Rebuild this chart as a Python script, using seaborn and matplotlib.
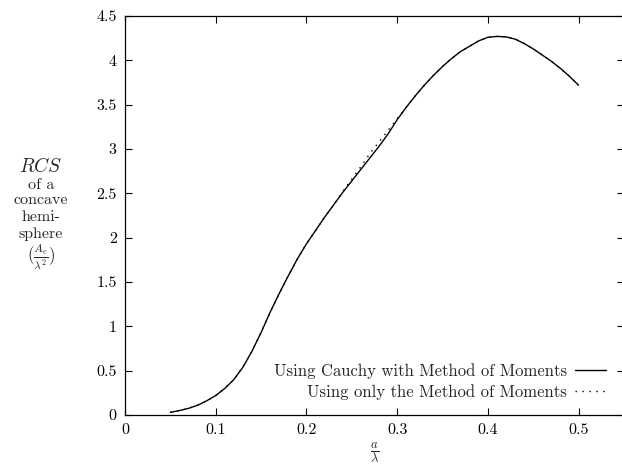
import numpy as np
import pandas as pd
import matplotlib
matplotlib.use("Agg")
import matplotlib.pyplot as plt
import seaborn as sns

# ---- data ----
a_over_lambda = [0.05, 0.06, 0.07, 0.08, 0.09, 0.10, 0.11, 0.12, 0.13, 0.14,
                 0.15, 0.16, 0.17, 0.18, 0.19, 0.20, 0.21, 0.22, 0.23, 0.24,
                 0.25, 0.26, 0.27, 0.28, 0.29, 0.30, 0.31, 0.32, 0.33, 0.34,
                 0.35, 0.36, 0.37, 0.38, 0.39, 0.40, 0.41, 0.42, 0.43, 0.44,
                 0.45, 0.46, 0.47, 0.48, 0.49, 0.50]
rcs_cauchy = [0.03, 0.05, 0.075, 0.11, 0.16, 0.22, 0.30, 0.40, 0.54, 0.72,
              0.93, 1.16, 1.37, 1.57, 1.76, 1.93, 2.08, 2.23, 2.37, 2.51,
              2.64, 2.77, 2.90, 3.03, 3.17, 3.33, 3.47, 3.60, 3.72, 3.83,
              3.93, 4.02, 4.10, 4.16, 4.22, 4.26, 4.27, 4.265, 4.24, 4.19,
              4.13, 4.06, 3.99, 3.91, 3.82, 3.72]
rcs_mom = [0.03, 0.05, 0.075, 0.11, 0.16, 0.22, 0.30, 0.40, 0.54, 0.72,
           0.93, 1.16, 1.37, 1.57, 1.76, 1.93, 2.08, 2.23, 2.37, 2.52,
           2.66, 2.80, 2.95, 3.08, 3.21, 3.34, 3.47, 3.60, 3.72, 3.83,
           3.93, 4.02, 4.10, 4.16, 4.22, 4.26, 4.27, 4.265, 4.24, 4.19,
           4.13, 4.06, 3.99, 3.91, 3.82, 3.72]
label_cauchy = "Using Cauchy with Method of Moments"
label_mom = "Using only the Method of Moments"
x_ticks = [0, 0.1, 0.2, 0.3, 0.4, 0.5]
y_ticks = [0, 0.5, 1, 1.5, 2, 2.5, 3, 3.5, 4, 4.5]

sns.set_theme(style="ticks")
plt.rcParams["font.family"] = ["cmr10", "DejaVu Serif"]
plt.rcParams["mathtext.fontset"] = "cm"
plt.rcParams["axes.formatter.use_mathtext"] = True
plt.rcParams["axes.unicode_minus"] = False

fig = plt.figure(figsize=(6.22, 4.66), dpi=100)
ax = fig.add_axes([0.201, 0.1094, 0.802, 0.8562])

df1 = pd.DataFrame({"x": a_over_lambda, "y": rcs_cauchy})
df2 = pd.DataFrame({"x": a_over_lambda, "y": rcs_mom})
sns.lineplot(data=df2, x="x", y="y", ax=ax, color="black", lw=1.0,
             linestyle=(0, (1, 4)), label=label_mom)
sns.lineplot(data=df1, x="x", y="y", ax=ax, color="black", lw=1.0,
             label=label_cauchy)

ax.set_xlim(0, 0.55)
ax.set_ylim(0, 4.5)
ax.set_xticks(x_ticks)
ax.set_yticks(y_ticks)
ax.set_xticklabels([f"{t:g}" for t in x_ticks])
ax.set_yticklabels([f"{t:g}" for t in y_ticks])
ax.tick_params(direction="in", length=5, width=0.8, top=True, right=True,
               labelsize=11.5, colors="black", pad=6)
for s in ax.spines.values():
    s.set_linewidth(0.9)
    s.set_color("black")

ax.set_xlabel(r"$\frac{a}{\lambda}$", fontsize=13, labelpad=2)
ax.set_ylabel("")

handles, labels = ax.get_legend_handles_labels()
order = [labels.index(label_cauchy), labels.index(label_mom)]
leg = ax.legend([handles[i] for i in order], [labels[i] for i in order],
                loc="lower right", bbox_to_anchor=(0.995, 0.0),
                frameon=False, markerfirst=False, fontsize=12,
                handlelength=1.9, handletextpad=0.45, labelspacing=0.3)

# y-axis label block
cx = 41 / 622
fig.text(cx, 1 - 167 / 466, r"$RCS$", fontsize=14, ha="center", va="center")
for txt, yy in [("of a", 185), ("concave", 200), ("hemi-", 217), ("sphere", 234)]:
    fig.text(cx, 1 - yy / 466, txt, fontsize=11.5, ha="center", va="center")
fig.text(cx, 1 - 257 / 466, r"$(\frac{A_e}{\lambda^2})$", fontsize=12,
         ha="center", va="center")

fig.savefig("out.png", dpi=100)
